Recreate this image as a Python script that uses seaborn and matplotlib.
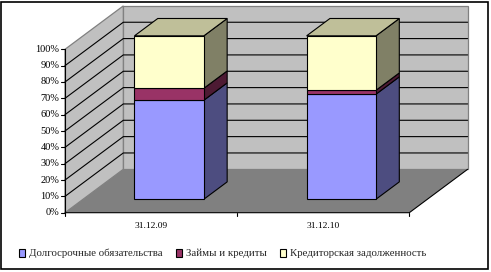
import numpy as np
import pandas as pd
import matplotlib
matplotlib.use("Agg")
import matplotlib.pyplot as plt
import matplotlib.transforms as mtransforms
from matplotlib.patches import Polygon, Rectangle, Patch
from matplotlib.colors import to_rgb
import seaborn as sns

# ---------------- data ----------------
categories = ["31.12.09", "31.12.10"]
series_names = ["Долгосрочные обязательства", "Займы и кредиты", "Кредиторская задолженность"]
long_term = [60.6, 64.3]
loans = [7.3, 2.4]
payables = [32.1, 33.3]
y_ticks = list(range(0, 101, 10))
y_tick_labels = [f"{t}%" for t in y_ticks]
front_colors = ["#9999FF", "#993366", "#FFFFCC"]

# ---------------- style ----------------
sns.set_theme(style="white")
plt.rcParams["font.family"] = ["Liberation Serif", "DejaVu Serif"]

W, H, DPI = 491, 272, 100
fig = plt.figure(figsize=(W / DPI, H / DPI), dpi=DPI)
ax = fig.add_axes([0, 0, 1, 1])

# geometry of the front plane (pixels)
PX_PER_CAT = 172.15
PX_PER_PCT = 1.634
X0_PX = 65.0            # x = -0.5 (left wall) in px from left
Y0_PX = H - 212.7       # 0 % in px from bottom
DX = 58.3 / PX_PER_CAT  # full depth, data units
DY = 43.4 / PX_PER_PCT
FB, FE = 0.31, 0.71     # bar depth start / end
BAR_W = 0.403

xl = -0.5 - X0_PX / PX_PER_CAT
yl = -Y0_PX / PX_PER_PCT


def proj(x, y, f):
    return (x + f * DX, y + f * DY)


def shade(c, k):
    r, g, b = to_rgb(c)
    return (r * k, g * k, b * k)


# ---------------- bars via seaborn ----------------
df = pd.DataFrame({"cat": categories, "lt": long_term, "ln": loans, "py": payables})
bottoms = [np.zeros(len(categories)), np.array(long_term), np.array(long_term) + np.array(loans)]
groups = []
for col, col_color, bot in zip(["lt", "ln", "py"], front_colors, bottoms):
    n0 = len(ax.patches)
    sns.barplot(data=df, x="cat", y=col, color=col_color, saturation=1, width=BAR_W,
                bottom=bot, edgecolor="black", linewidth=0.8, ax=ax, zorder=6)
    groups.append((col_color, list(ax.patches[n0:])))

shift = mtransforms.Affine2D().translate(FB * DX, FB * DY) + ax.transData
for ci, (col_color, patches) in enumerate(groups):
    for p in patches:
        p.set_transform(shift)
        x0, y0, w, h = p.get_x(), p.get_y(), p.get_width(), p.get_height()
        x1, y1 = x0 + w, y0 + h
        side = [proj(x1, y0, FB), proj(x1, y0, FE), proj(x1, y1, FE), proj(x1, y1, FB)]
        ax.add_patch(Polygon(side, closed=True, facecolor=shade(col_color, 0.5),
                             edgecolor="black", linewidth=0.8, zorder=5))
        if ci == len(groups) - 1:
            top = [proj(x0, y1, FB), proj(x1, y1, FB), proj(x1, y1, FE), proj(x0, y1, FE)]
            ax.add_patch(Polygon(top, closed=True, facecolor=shade(col_color, 0.75),
                                 edgecolor="black", linewidth=0.8, zorder=5))

# ---------------- walls / floor ----------------
L, R = -0.5, len(categories) - 0.5
back = [proj(L, 0, 1), proj(R, 0, 1), proj(R, 100, 1), proj(L, 100, 1)]
left = [proj(L, 0, 0), proj(L, 0, 1), proj(L, 100, 1), proj(L, 100, 0)]
floor = [proj(L, 0, 0), proj(R, 0, 0), proj(R, 0, 1), proj(L, 0, 1)]
ax.add_patch(Polygon(back, closed=True, facecolor="#C0C0C0", edgecolor="#808080", linewidth=0.9, zorder=1))
ax.add_patch(Polygon(left, closed=True, facecolor="#C0C0C0", edgecolor="#808080", linewidth=0.9, zorder=1))
ax.add_patch(Polygon(floor, closed=True, facecolor="#808080", edgecolor="none", zorder=2))
# floor front/right edges
fx = [proj(L, 0, 0)[0], proj(R, 0, 0)[0], proj(R, 0, 1)[0]]
fy = [proj(L, 0, 0)[1], proj(R, 0, 0)[1], proj(R, 0, 1)[1]]
ax.plot(fx, fy, color="black", lw=0.8, zorder=3)

for t in y_ticks[1:-1]:
    a, b = proj(L, t, 0), proj(L, t, 1)
    c = proj(R, t, 1)
    ax.plot([a[0], b[0], c[0]], [a[1], b[1], c[1]], color="black", lw=0.8, zorder=3)

# value axis
ax.plot([L, L], [0, 100], color="black", lw=0.8, zorder=4)
tick_x = 3.5 / PX_PER_CAT
for t, lab in zip(y_ticks, y_tick_labels):
    ax.plot([L - tick_x, L], [t, t], color="black", lw=0.8, zorder=4)
    ax.text(L - 5.5 / PX_PER_CAT, t, lab, ha="right", va="center", fontsize=7.5, color="black")

# category axis ticks and labels
tick_y = 3.5 / PX_PER_PCT
for b in np.arange(L, R + 0.01, 1.0):
    ax.plot([b, b], [0, -tick_y], color="black", lw=0.8, zorder=4)
for i, cat in enumerate(categories):
    ax.text(i, -13.5 / PX_PER_PCT, cat, ha="center", va="center", fontsize=6.8, color="black")

ax.set_xlim(xl, xl + W / PX_PER_CAT)
ax.set_ylim(yl, yl + H / PX_PER_PCT)
ax.set_axis_off()

# ---------------- legend ----------------
handles = [Patch(facecolor=c, edgecolor="black", linewidth=0.8) for c in front_colors]
fig.legend(handles, series_names, loc="center", bbox_to_anchor=(222.5 / W, 18.5 / H), ncol=3,
           frameon=False, fontsize=7.8, handlelength=0.6, handleheight=0.75, handletextpad=0.35,
           columnspacing=1.2, borderpad=0, borderaxespad=0)

# ---------------- outer border ----------------
fig.add_artist(Rectangle((1 / W, 3 / H), 487 / W, 267.5 / H, transform=fig.transFigure,
                         fill=False, edgecolor="black", linewidth=1.2))

fig.savefig("out.png", dpi=DPI, facecolor="white")
